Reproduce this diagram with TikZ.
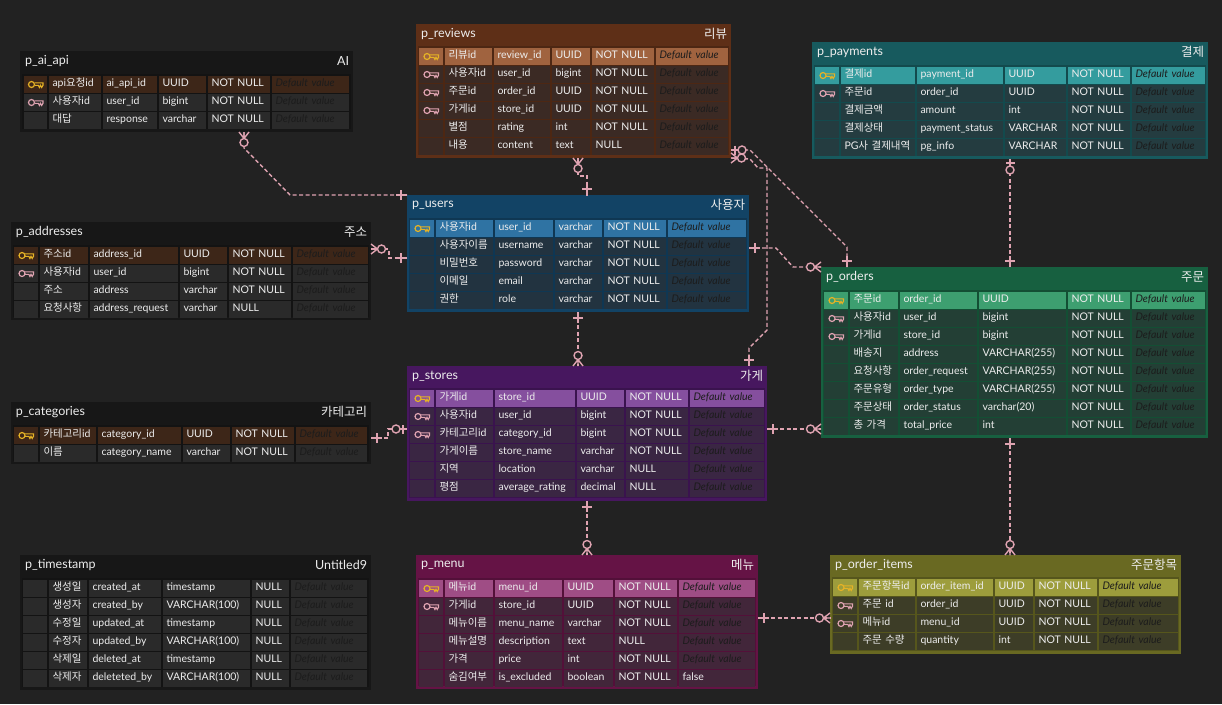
\documentclass[tikz,border=0pt]{standalone}
\usepackage{fontspec}
\setmainfont{Lato}
\newfontfamily\krfont{Noto Sans CJK KR}
\usetikzlibrary{calc}
\newcommand{\krtext}[1]{{\krfont #1}}

\definecolor{PageClr}{HTML}{222222}
\definecolor{TextClr}{HTML}{EDEDED}
\definecolor{DfltClr}{HTML}{1C1C1C}
\definecolor{RelClr}{HTML}{DFA3B1}
\definecolor{GoldClr}{HTML}{E5B226}
\definecolor{PlainHeadClr}{HTML}{171717}
\definecolor{PlainPkClr}{HTML}{3D2618}
\definecolor{PlainCellClr}{HTML}{2A2A2A}
\definecolor{ReviewsHeadClr}{HTML}{5E2F17}
\definecolor{ReviewsPkClr}{HTML}{A0633F}
\definecolor{ReviewsCellClr}{HTML}{3B2A24}
\definecolor{PaymentsHeadClr}{HTML}{175A5E}
\definecolor{PaymentsPkClr}{HTML}{349C9E}
\definecolor{PaymentsCellClr}{HTML}{243C40}
\definecolor{UsersHeadClr}{HTML}{124365}
\definecolor{UsersPkClr}{HTML}{2F73A3}
\definecolor{UsersCellClr}{HTML}{223340}
\definecolor{StoresHeadClr}{HTML}{47175F}
\definecolor{StoresPkClr}{HTML}{854F9E}
\definecolor{StoresCellClr}{HTML}{3A2643}
\definecolor{OrdersHeadClr}{HTML}{176040}
\definecolor{OrdersPkClr}{HTML}{3D9F70}
\definecolor{OrdersCellClr}{HTML}{233F35}
\definecolor{MenuHeadClr}{HTML}{651345}
\definecolor{MenuPkClr}{HTML}{9F4D85}
\definecolor{MenuCellClr}{HTML}{42263A}
\definecolor{ItemsHeadClr}{HTML}{696922}
\definecolor{ItemsPkClr}{HTML}{9D9D3C}
\definecolor{ItemsCellClr}{HTML}{3D3D27}

\tikzset{
  tablebox/.style={rectangle,anchor=north west,inner sep=0pt,outer sep=0pt},
  cellbox/.style={rectangle,anchor=north west,inner xsep=3.5pt,inner ysep=0pt,outer sep=0pt,
    minimum height=17pt,text height=7.5pt,text depth=4.5pt,align=left,text=TextClr,
    font=\fontsize{10.5}{12}\selectfont},
  titletext/.style={inner sep=0pt,outer sep=0pt,text=TextClr,font=\fontsize{12.5}{14}\selectfont},
  relation/.style={draw=RelClr,line width=1.4pt,dash pattern=on 4pt off 2.5pt},
  relmark/.style={draw=RelClr,line width=1.4pt},
  crowzero/.pic={
    \draw[relmark] (0,-5) -- (6.5,0) -- (0,5) (0,0) -- (6.5,0);
    \draw[relmark,fill=PageClr] (10.5,0) circle (4);
  },
  barzero/.pic={
    \draw[relmark] (0,0) -- (7,0) (4,-4.5) -- (4,4.5);
    \draw[relmark,fill=PageClr] (11,0) circle (4);
  },
  onebar/.pic={
    \draw[relmark] (0,0) -- (11,0) (6,-5) -- (6,5);
  },
  keyicon/.pic={
    \draw[draw=#1,line width=1.2pt] (-4,0) circle (3);
    \draw[draw=#1,line width=1.1pt] (-1,-1.7) -- (7.5,-1.7) -- (7.5,0.8) -- (6.2,3) -- (5,0.8) -- (3.9,3) -- (2.8,0.8) -- (-1,0.8);
  }
}

% boxes and their columns
\newcommand{\erdtable}[9]{
  \def\curname{#1}\def\curclr{#9}\def\rowtop{#6}
  \pgfmathsetmacro\boxw{#4-#2}
  \pgfmathsetmacro\boxh{#5-#3}
  \node[tablebox,fill=#9HeadClr,minimum width=\boxw pt,minimum height=\boxh pt] (#1) at (#2,#3) {};
  \pgfmathsetmacro\bodyw{#4-#2-4}
  \pgfmathsetmacro\bodyh{#5-#6-1}
  \pgfmathsetmacro\bodyx{#2+2}
  \pgfmathsetmacro\bodyy{#6-2}
  \node[tablebox,fill=#9HeadClr!82!black,minimum width=\bodyw pt,minimum height=\bodyh pt] (#1-body) at (\bodyx,\bodyy) {};
  \node[titletext,anchor=west] (#1-title) at ($(#1.north west)+(5,10)$) {#7};
  \node[titletext,anchor=east] (#1-label) at ($(#1.north east)+(-4,10)$) {#8};
}
\newcommand{\erdcols}[7]{\def\colA{#1}\def\colB{#2}\def\colC{#3}\def\colD{#4}\def\colE{#5}\def\colF{#6}\def\colG{#7}}
\newcommand{\erdcell}[4]{
  \pgfmathsetmacro\cellw{#3-#2-2}
  \node[cellbox,fill=\cellclr,minimum width=\cellw pt,text width=\cellw pt-7pt] (\curname-#1) at (#2,\rowy) {#4};
}
% #1 row, #2 pk, fk or no, #3-#7 texts
\newcommand{\erdrow}[7]{
  \pgfmathsetmacro\rowy{\rowtop+18*(#1-1)}
  \def\kindarg{#2}\def\kindpk{pk}\def\kindfk{fk}
  \ifx\kindarg\kindpk\edef\cellclr{\curclr PkClr}\else\edef\cellclr{\curclr CellClr}\fi
  \erdcell{#1-k}{\colA}{\colB}{}
  \erdcell{#1-a}{\colB}{\colC}{#3}
  \erdcell{#1-b}{\colC}{\colD}{#4}
  \erdcell{#1-c}{\colD}{\colE}{#5}
  \erdcell{#1-d}{\colE}{\colF}{#6}
  \erdcell{#1-e}{\colF}{\colG}{#7}
  \ifx\kindarg\kindpk\pic at (\curname-#1-k.center) {keyicon=GoldClr};\fi
  \ifx\kindarg\kindfk\pic at (\curname-#1-k.center) {keyicon=RelClr};\fi
}
\newcommand{\dflt}{{\itshape\color{DfltClr}Default value}}

\begin{document}
\begin{tikzpicture}[x=1pt,y=-1pt]
\fill[PageClr] (0,0) rectangle (1222,704);

% p_ai_api
\erdtable{p_ai_api}{20}{51}{353}{132}{76}{p\_ai\_api}{AI}{Plain}
\erdcols{24}{49}{103}{159}{208}{272}{351}
\erdrow{1}{pk}{api\krtext{요청}id}{ai\_api\_id}{UUID}{NOT NULL}{\dflt}
\erdrow{2}{fk}{\krtext{사용자}id}{user\_id}{bigint}{NOT NULL}{\dflt}
\erdrow{3}{no}{\krtext{대답}}{response}{varchar}{NOT NULL}{\dflt}

% p_addresses
\erdtable{p_addresses}{11}{222}{371}{320}{247}{p\_addresses}{\krtext{주소}}{Plain}
\erdcols{14}{40}{90}{180}{229}{293}{370}
\erdrow{1}{pk}{\krtext{주소}id}{address\_id}{UUID}{NOT NULL}{\dflt}
\erdrow{2}{fk}{\krtext{사용자}id}{user\_id}{bigint}{NOT NULL}{\dflt}
\erdrow{3}{no}{\krtext{주소}}{address}{varchar}{NOT NULL}{\dflt}
\erdrow{4}{no}{\krtext{요청사항}}{address\_request}{varchar}{NULL}{\dflt}

% p_categories
\erdtable{p_categories}{11}{402}{371}{464}{427}{p\_categories}{\krtext{카테고리}}{Plain}
\erdcols{14}{40}{98}{183}{232}{296}{369}
\erdrow{1}{pk}{\krtext{카테고리}id}{category\_id}{UUID}{NOT NULL}{\dflt}
\erdrow{2}{no}{\krtext{이름}}{category\_name}{varchar}{NOT NULL}{\dflt}

% p_timestamp
\erdtable{p_timestamp}{20}{555}{371}{690}{580}{p\_timestamp}{Untitled9}{Plain}
\erdcols{23}{49}{89}{163}{252}{291}{369}
\erdrow{1}{no}{\krtext{생성일}}{created\_at}{timestamp}{NULL}{\dflt}
\erdrow{2}{no}{\krtext{생성자}}{created\_by}{VARCHAR(100)}{NULL}{\dflt}
\erdrow{3}{no}{\krtext{수정일}}{updated\_at}{timestamp}{NULL}{\dflt}
\erdrow{4}{no}{\krtext{수정자}}{updated\_by}{VARCHAR(100)}{NULL}{\dflt}
\erdrow{5}{no}{\krtext{삭제일}}{deleted\_at}{timestamp}{NULL}{\dflt}
\erdrow{6}{no}{\krtext{삭제자}}{deleteted\_by}{VARCHAR(100)}{NULL}{\dflt}

% p_reviews
\erdtable{p_reviews}{416}{24}{731}{158}{48}{p\_reviews}{\krtext{리뷰}}{Reviews}
\erdcols{419}{445}{494}{552}{592}{656}{730}
\erdrow{1}{pk}{\krtext{리뷰}id}{review\_id}{UUID}{NOT NULL}{\dflt}
\erdrow{2}{fk}{\krtext{사용자}id}{user\_id}{bigint}{NOT NULL}{\dflt}
\erdrow{3}{fk}{\krtext{주문}id}{order\_id}{UUID}{NOT NULL}{\dflt}
\erdrow{4}{fk}{\krtext{가게}id}{store\_id}{UUID}{NOT NULL}{\dflt}
\erdrow{5}{no}{\krtext{별점}}{rating}{int}{NOT NULL}{\dflt}
\erdrow{6}{no}{\krtext{내용}}{content}{text}{NULL}{\dflt}

% p_payments
\erdtable{p_payments}{812}{42}{1208}{159}{67}{p\_payments}{\krtext{결제}}{Payments}
\erdcols{815}{841}{917}{1005}{1068}{1132}{1207}
\erdrow{1}{pk}{\krtext{결제}id}{payment\_id}{UUID}{NOT NULL}{\dflt}
\erdrow{2}{fk}{\krtext{주문}id}{order\_id}{UUID}{NOT NULL}{\dflt}
\erdrow{3}{no}{\krtext{결제금액}}{amount}{int}{NOT NULL}{\dflt}
\erdrow{4}{no}{\krtext{결제상태}}{payment\_status}{VARCHAR}{NOT NULL}{\dflt}
\erdrow{5}{no}{PG\krtext{사 결제내역}}{pg\_info}{VARCHAR}{NOT NULL}{\dflt}

% p_users
\erdtable{p_users}{407}{195}{749}{312}{220}{p\_users}{\krtext{사용자}}{Users}
\erdcols{410}{436}{495}{555}{604}{668}{748}
\erdrow{1}{pk}{\krtext{사용자}id}{user\_id}{varchar}{NOT NULL}{\dflt}
\erdrow{2}{no}{\krtext{사용자이름}}{username}{varchar}{NOT NULL}{\dflt}
\erdrow{3}{no}{\krtext{비밀번호}}{password}{varchar}{NOT NULL}{\dflt}
\erdrow{4}{no}{\krtext{이메일}}{email}{varchar}{NOT NULL}{\dflt}
\erdrow{5}{no}{\krtext{권한}}{role}{varchar}{NOT NULL}{\dflt}

% p_stores
\erdtable{p_stores}{407}{366}{767}{501}{390}{p\_stores}{\krtext{가게}}{Stores}
\erdcols{410}{436}{495}{577}{626}{690}{766}
\erdrow{1}{pk}{\krtext{가게}id}{store\_id}{UUID}{NOT NULL}{\dflt}
\erdrow{2}{fk}{\krtext{사용자}id}{user\_id}{bigint}{NOT NULL}{\dflt}
\erdrow{3}{fk}{\krtext{카테고리}id}{category\_id}{bigint}{NOT NULL}{\dflt}
\erdrow{4}{no}{\krtext{가게이름}}{store\_name}{varchar}{NOT NULL}{\dflt}
\erdrow{5}{no}{\krtext{지역}}{location}{varchar}{NULL}{\dflt}
\erdrow{6}{no}{\krtext{평점}}{average\_rating}{decimal}{NULL}{\dflt}

% p_orders
\erdtable{p_orders}{821}{267}{1208}{438}{292}{p\_orders}{\krtext{주문}}{Orders}
\erdcols{824}{850}{900}{979}{1068}{1132}{1207}
\erdrow{1}{pk}{\krtext{주문}id}{order\_id}{UUID}{NOT NULL}{\dflt}
\erdrow{2}{fk}{\krtext{사용자}id}{user\_id}{bigint}{NOT NULL}{\dflt}
\erdrow{3}{fk}{\krtext{가게}id}{store\_id}{bigint}{NOT NULL}{\dflt}
\erdrow{4}{no}{\krtext{배송지}}{address}{VARCHAR(255)}{NOT NULL}{\dflt}
\erdrow{5}{no}{\krtext{요청사항}}{order\_request}{VARCHAR(255)}{NOT NULL}{\dflt}
\erdrow{6}{no}{\krtext{주문유형}}{order\_type}{VARCHAR(255)}{NOT NULL}{\dflt}
\erdrow{7}{no}{\krtext{주문상태}}{order\_status}{varchar(20)}{NOT NULL}{\dflt}
\erdrow{8}{no}{\krtext{총 가격}}{total\_price}{int}{NOT NULL}{\dflt}

% p_menu
\erdtable{p_menu}{416}{555}{758}{689}{580}{p\_menu}{\krtext{메뉴}}{Menu}
\erdcols{419}{445}{495}{564}{615}{679}{757}
\erdrow{1}{pk}{\krtext{메뉴}id}{menu\_id}{UUID}{NOT NULL}{\dflt}
\erdrow{2}{fk}{\krtext{가게}id}{store\_id}{UUID}{NOT NULL}{\dflt}
\erdrow{3}{no}{\krtext{메뉴이름}}{menu\_name}{varchar}{NOT NULL}{\dflt}
\erdrow{4}{no}{\krtext{메뉴설명}}{description}{text}{NULL}{\dflt}
\erdrow{5}{no}{\krtext{가격}}{price}{int}{NOT NULL}{\dflt}
\erdrow{6}{no}{\krtext{숨김여부}}{is\_excluded}{boolean}{NOT NULL}{false}

% p_order_items
\erdtable{p_order_items}{830}{555}{1181}{654}{579}{p\_order\_items}{\krtext{주문항목}}{Items}
\erdcols{833}{859}{917}{995}{1035}{1099}{1180}
\erdrow{1}{pk}{\krtext{주문항목}id}{order\_item\_id}{UUID}{NOT NULL}{\dflt}
\erdrow{2}{fk}{\krtext{주문} id}{order\_id}{UUID}{NOT NULL}{\dflt}
\erdrow{3}{fk}{\krtext{메뉴}id}{menu\_id}{UUID}{NOT NULL}{\dflt}
\erdrow{4}{no}{\krtext{주문 수량}}{quantity}{int}{NOT NULL}{\dflt}

% relations
\draw[relation] (p_ai_api.south -| 244,0) -- (244,148) -- (290,195) -- (p_users.north west);
\draw[relation] (p_addresses.east |- 0,249) -- (389,249) -- (389,258) -- (p_users.west |- 0,258);
\draw[relation] (p_reviews.south -| 578,0) -- (578,176) -- (587,176) -- (p_users.north -| 587,0);
\draw[relation] (p_users.south -| 578,0) -- (p_stores.north -| 578,0);
\draw[relation] (p_categories.east |- 0,438) -- (388,438) -- (388,429) -- (p_stores.west |- 0,429);
\draw[relation] (p_reviews.east |- 0,150) -- (750,150) -- (847,247) -- (p_orders.north -| 847,0);
\draw[relation] (p_reviews.south east) -- (750,159) -- (758,168) -- (767,168) -- (767,330) -- (749,348) -- (p_stores.north -| 749,0);
\draw[relation] (p_users.east |- 0,248) -- (776,248) -- (793,267) -- (p_orders.north west);
\draw[relation] (p_stores.east |- 0,429) -- (p_orders.west |- 0,429);
\draw[relation] (p_payments.south -| 1010,0) -- (p_orders.north -| 1010,0);
\draw[relation] (p_orders.south -| 1010,0) -- (p_order_items.north -| 1010,0);
\draw[relation] (p_stores.south -| 587,0) -- (p_menu.north -| 587,0);
\draw[relation] (p_menu.east |- 0,618) -- (p_order_items.west |- 0,618);

% relation ends
\pic[rotate=-90] at (p_ai_api.south -| 244,0) {crowzero};
\pic[rotate=180] at (p_users.north west) {onebar};
\pic at (p_addresses.east |- 0,249) {crowzero};
\pic[rotate=180] at (p_users.west |- 0,258) {onebar};
\pic[rotate=-90] at (p_reviews.south -| 578,0) {crowzero};
\pic[rotate=90] at (p_users.north -| 587,0) {onebar};
\pic[rotate=-90] at (p_users.south -| 578,0) {onebar};
\pic[rotate=90] at (p_stores.north -| 578,0) {crowzero};
\pic at (p_categories.east |- 0,438) {onebar};
\pic[rotate=180] at (p_stores.west |- 0,429) {barzero};
\pic at (p_reviews.east |- 0,150) {barzero};
\pic[rotate=90] at (p_orders.north -| 847,0) {onebar};
\pic at (p_reviews.south east) {crowzero};
\pic[rotate=90] at (p_stores.north -| 749,0) {onebar};
\pic at (p_users.east |- 0,248) {onebar};
\pic[rotate=180] at (p_orders.north west) {crowzero};
\pic at (p_stores.east |- 0,429) {onebar};
\pic[rotate=180] at (p_orders.west |- 0,429) {crowzero};
\pic[rotate=-90] at (p_payments.south -| 1010,0) {barzero};
\pic[rotate=90] at (p_orders.north -| 1010,0) {onebar};
\pic[rotate=-90] at (p_orders.south -| 1010,0) {onebar};
\pic[rotate=90] at (p_order_items.north -| 1010,0) {crowzero};
\pic[rotate=-90] at (p_stores.south -| 587,0) {onebar};
\pic[rotate=90] at (p_menu.north -| 587,0) {crowzero};
\pic at (p_menu.east |- 0,618) {onebar};
\pic[rotate=180] at (p_order_items.west |- 0,618) {crowzero};
\end{tikzpicture}
\end{document}
